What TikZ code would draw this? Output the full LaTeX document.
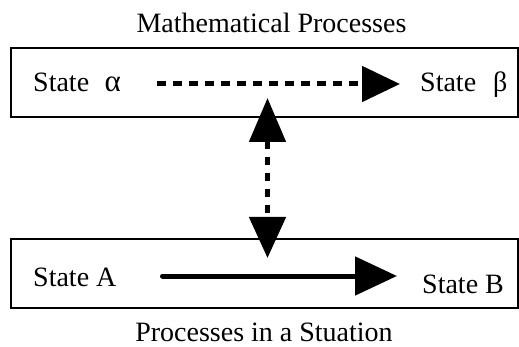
\documentclass[tikz,border=0pt]{standalone}
\usepackage{fontspec}
\setmainfont{Liberation Serif}
\usetikzlibrary{arrows.meta, positioning}

\begin{document}
\begin{tikzpicture}[x=1pt, y=-1pt,
  stbox/.style={draw, line width=1.5pt, minimum width=507pt, minimum height=69pt, inner sep=0pt},
  lbl/.style={font=\fontsize{28}{32}\selectfont, inner sep=0pt, anchor=base west},
  ttl/.style={font=\fontsize{28}{32}\selectfont, inner sep=0pt, anchor=base},
  dashline/.style={line width=5pt, dash pattern=on 8.5pt off 7.5pt}]
  \useasboundingbox (0,0) rectangle (519,347);
  % the two boxes
  \node[stbox] (mathbox) at (264.5,82.5) {};
  \node[stbox] (sitbox) at (264.5,273.5) {};
  \node[ttl] (mathttl) at (271.5,33) {Mathematical Processes};
  \node[ttl] (sitttl) at (264,341.5) {Processes in a Stuation};
  % states
  \node[lbl] (stAlpha) at (33,92) {State\hspace{0.55em}{\fontsize{31}{32}\selectfont α}};
  \node[lbl] (stBeta) at (420,92) {State\hspace{0.6em}β};
  \node[lbl] (stA) at (33,286) {State A};
  \node[lbl] (stB) at (422,293) {State B};
  % arrow ends
  \coordinate (mpStart) at (157,84);
  \coordinate (mpEnd) at (400,84);
  \coordinate (linkTop) at (267.5,98);
  \coordinate (linkBot) at (267.5,258);
  \coordinate (spStart) at (162.5,276);
  \coordinate (spEnd) at (397,276);
  \draw[dashline, -{Triangle[length=38pt,width=35pt]}] (mpStart) -- (mpEnd);
  \draw[dashline, {Triangle[length=44pt,width=36pt]}-{Triangle[length=41pt,width=36pt]}] (linkTop) -- (linkBot);
  \draw[line width=5pt, line cap=round, -{Triangle[length=42pt,width=38pt]}] (spStart) -- (spEnd);
\end{tikzpicture}
\end{document}
